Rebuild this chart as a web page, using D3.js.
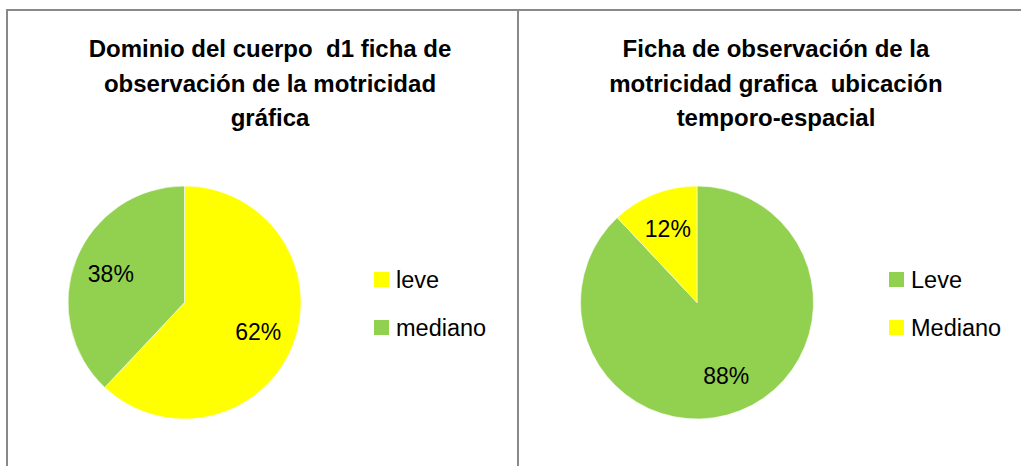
<!DOCTYPE html>
<html lang="es">

<head>
    <meta charset="UTF-8">
    <title>Motricidad grafica</title>
    <script src="https://cdn.jsdelivr.net/npm/d3@7"></script>

    <style>

        body {
            margin: 0;
            background: #fff;
        }

        svg text {
            font-family: "Liberation Sans", Arial, sans-serif;
            fill: #000;
        }

        .frame line {
            stroke: #898989;
            stroke-width: 2px;
        }

        .title text {
            font-weight: bold;
            font-size: 24px;
            white-space: pre;
        }

        .slice-label {
            font-size: 23px;
        }

        .legend text {
            font-size: 23.5px;
        }

    </style>

</head>

<body>

    <svg width="1021" height="466"></svg>

    <script>

        // chart data
        var leftTitle = ["Dominio del cuerpo  d1 ficha de", "observación de la motricidad", "gráfica"];
        var leftCategories = ["leve", "mediano"];
        var leftValues = [62, 38];

        var rightTitle = ["Ficha de observación de la", "motricidad grafica  ubicación", "temporo-espacial"];
        var rightCategories = ["Leve", "Mediano"];
        var rightValues = [88, 12];

        var yellow = "#FFFF00",
            green = "#92D050";

        var svg = d3.select("svg"),
            width = +svg.attr("width"),
            height = +svg.attr("height");

        // outer frame of the two panels
        var frame = svg.append("g").attr("class", "frame");
        frame.append("line").attr("x1", 6).attr("x2", width).attr("y1", 10).attr("y2", 10);
        frame.append("line").attr("x1", 7).attr("x2", 7).attr("y1", 9).attr("y2", height);
        frame.append("line").attr("x1", 518).attr("x2", 518).attr("y1", 9).attr("y2", height);

        function drawPanel(opts) {
            var g = svg.append("g")
                .attr("transform", "translate(" + opts.x + ",0)");

            var title = g.append("g").attr("class", "title");
            title.selectAll("text")
                .data(opts.title)
                .enter().append("text")
                .attr("x", opts.titleX)
                .attr("y", function(d, i) { return 57 + i * 34.5; })
                .attr("text-anchor", "middle")
                .text(function(d) { return d; });

            var color = d3.scaleOrdinal()
                .domain(opts.categories)
                .range(opts.colors);

            var total = d3.sum(opts.values);

            var pie = d3.pie()
                .sort(null)
                .value(function(d) { return d.value; });

            var data = opts.categories.map(function(c, i) {
                return { name: c, value: opts.values[i] };
            });

            var radius = 116.5;
            var arc = d3.arc().innerRadius(0).outerRadius(radius);
            var labelArc = d3.arc().innerRadius(radius * 0.68).outerRadius(radius * 0.68);

            var pieG = g.append("g")
                .attr("transform", "translate(" + opts.cx + "," + opts.cy + ")");

            var slices = pie(data);

            pieG.selectAll("path")
                .data(slices)
                .enter().append("path")
                .attr("d", arc)
                .attr("fill", function(d) { return color(d.data.name); })
                .attr("stroke", "#fff")
                .attr("stroke-width", 0.6);

            pieG.selectAll("text")
                .data(slices)
                .enter().append("text")
                .attr("class", "slice-label")
                .attr("transform", function(d) { return "translate(" + labelArc.centroid(d) + ")"; })
                .attr("text-anchor", "middle")
                .attr("dy", "0.36em")
                .text(function(d) { return Math.round(d.value / total * 100) + "%"; });

            var legend = g.append("g")
                .attr("class", "legend")
                .attr("transform", "translate(" + opts.legendX + ",272)");

            var item = legend.selectAll("g")
                .data(opts.categories)
                .enter().append("g")
                .attr("transform", function(d, i) { return "translate(0," + (i * 48) + ")"; });

            item.append("rect")
                .attr("width", 15)
                .attr("height", 15)
                .attr("fill", function(d) { return color(d); });

            item.append("text")
                .attr("x", 22)
                .attr("y", 15.5)
                .text(function(d) { return d; });
        }

        drawPanel({
            x: 7,
            title: leftTitle,
            titleX: 263,
            categories: leftCategories,
            values: leftValues,
            colors: [yellow, green],
            cx: 177.5,
            cy: 302.5,
            legendX: 367
        });

        drawPanel({
            x: 518,
            title: rightTitle,
            titleX: 258,
            categories: rightCategories,
            values: rightValues,
            colors: [green, yellow],
            cx: 179,
            cy: 302.5,
            legendX: 371
        });

    </script>

</body>

</html>
